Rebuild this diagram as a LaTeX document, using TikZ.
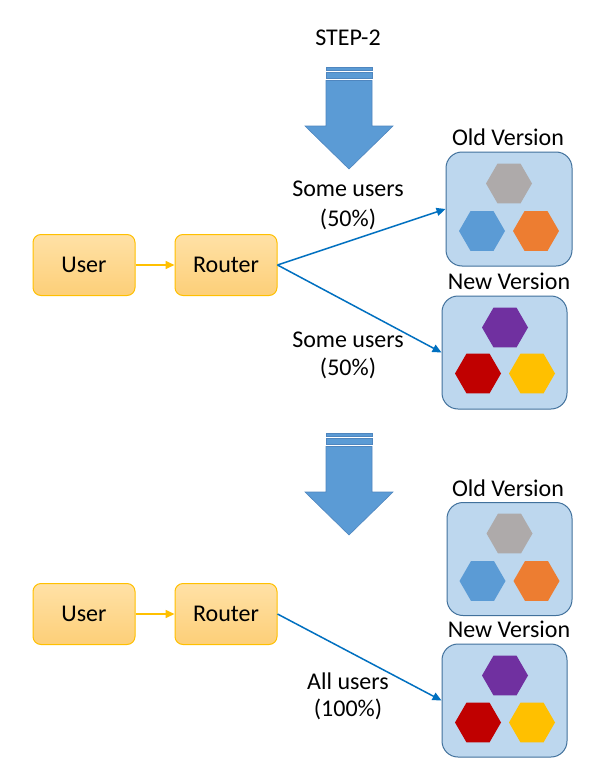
\documentclass[tikz,border=0pt]{standalone}
\usepackage{fontspec}
\setmainfont{Carlito}
\usetikzlibrary{shapes.geometric,arrows.meta}
\definecolor{boxtop}{HTML}{FFE1A6}
\definecolor{boxbot}{HTML}{FDCF78}
\definecolor{boxline}{HTML}{FFC000}
\definecolor{edgeblue}{HTML}{0070C0}
\definecolor{verfill}{HTML}{BDD7EE}
\definecolor{verline}{HTML}{41719C}
\definecolor{arrfill}{HTML}{5B9BD5}
\definecolor{arrline}{HTML}{4F86BF}
\definecolor{hgray}{HTML}{AEAAAA}
\definecolor{hblue}{HTML}{5B9BD5}
\definecolor{horange}{HTML}{ED7D31}
\definecolor{hpurple}{HTML}{7030A0}
\definecolor{hred}{HTML}{C00000}
\definecolor{hyellow}{HTML}{FFC000}
\tikzset{
  txt/.style={font=\fontsize{24}{29}\selectfont, inner sep=0pt, align=center},
  orbox/.style={draw=boxline, line width=1pt, rounded corners=8pt, top color=boxtop, bottom color=boxbot,
    minimum width=102pt, minimum height=61pt, inner sep=0pt, font=\fontsize{24}{29}\selectfont},
  verbox/.style={draw=verline, line width=1pt, fill=verfill, rounded corners=16pt,
    minimum width=125pt, minimum height=113pt, inner sep=0pt},
  hexa/.style={regular polygon, regular polygon sides=6, minimum size=46pt, inner sep=0pt},
  blueedge/.style={draw=edgeblue, line width=1.5pt, -{Triangle[width=8pt,length=9pt]}},
  oredge/.style={draw=boxline, line width=1.6pt, -{Triangle[width=8pt,length=9pt]}},
  bigarrow/.style={fill=arrfill, draw=arrline, line width=0.6pt}
}
\newcommand{\stepdown}[1]{%
  \begin{scope}[yshift=#1]
    \path[bigarrow] (326,67) rectangle (372,70.5);
    \path[bigarrow] (326,72.5) rectangle (372,78.5);
    \path[bigarrow] (326,80.5) -- (372,80.5) -- (372,126) -- (393,126) -- (349,169)
      -- (305,126) -- (326,126) -- cycle;
  \end{scope}}
\begin{document}
\begin{tikzpicture}[x=1pt,y=-1pt]
\useasboundingbox[fill=white] (0,0) rectangle (589,776);

\node[txt] (step) at (348,38) {STEP-2};
\stepdown{0pt}
\stepdown{-366pt}

% ---------- top section ----------
\node[orbox] (user1) at (84,265) {User};
\node[orbox] (router1) at (226,265) {Router};
\draw[oredge] (user1) -- (router1);

\node[txt] (oldlbl1) at (508,137) {Old Version};
\node[verbox, minimum width=126pt, minimum height=114pt] (old1) at (509,209) {};
\node[hexa, fill=hgray] (g1) at (509,183.5) {};
\node[hexa, fill=hblue] (b1) at (482,231) {};
\node[hexa, fill=horange] (o1) at (536,231) {};

\node[txt] (newlbl1) at (509,281) {New Version};
\node[verbox] (new1) at (504.5,352.5) {};
\node[hexa, fill=hpurple] (p1) at (505,327.5) {};
\node[hexa, fill=hred] (r1) at (478,373.5) {};
\node[hexa, fill=hyellow] (y1) at (532,373.5) {};

\draw[blueedge] (router1.east) -- (old1.west);
\draw[blueedge] (router1.east) -- (new1.west);

\node[txt] (lab1a) at (348,189) {Some users};
\node[txt] (lab1b) at (348,219) {(50\%)};
\node[txt] (lab2a) at (348,340) {Some users};
\node[txt] (lab2b) at (348,368) {(50\%)};

% ---------- bottom section ----------
\node[orbox] (user2) at (84,614) {User};
\node[orbox] (router2) at (226,614) {Router};
\draw[oredge] (user2) -- (router2);

\node[txt] (oldlbl2) at (508,488) {Old Version};
\node[verbox] (old2) at (509.5,559) {};
\node[hexa, fill=hgray] (g2) at (509.5,533.5) {};
\node[hexa, fill=hblue] (b2) at (482.5,581) {};
\node[hexa, fill=horange] (o2) at (536.5,581) {};

\node[txt] (newlbl2) at (509,629) {New Version};
\node[verbox] (new2) at (504.5,700.5) {};
\node[hexa, fill=hpurple] (p2) at (505,675.5) {};
\node[hexa, fill=hred] (r2) at (478,722.5) {};
\node[hexa, fill=hyellow] (y2) at (532,722.5) {};

\draw[blueedge] (router2.east) -- (new2.west);

\node[txt] (lab3a) at (348,681) {All users};
\node[txt] (lab3b) at (348,709) {(100\%)};
\end{tikzpicture}
\end{document}
